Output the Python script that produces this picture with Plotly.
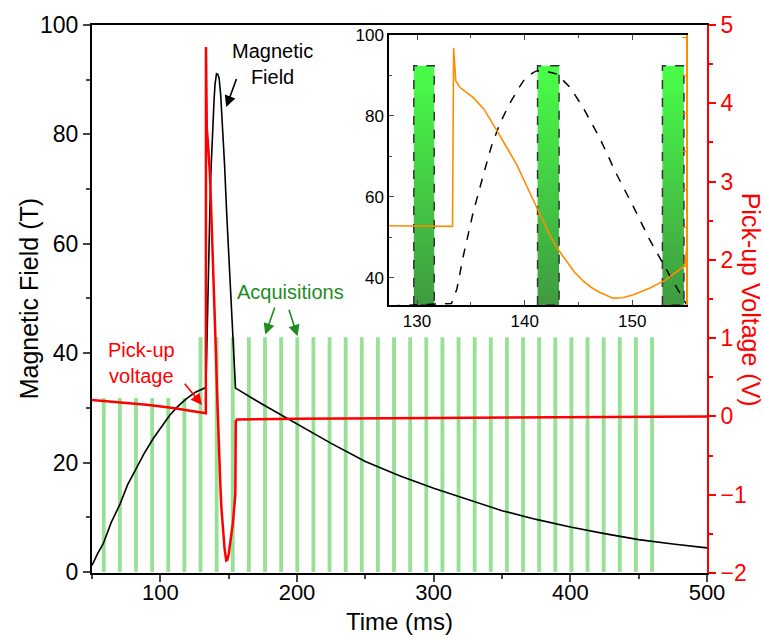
import plotly.graph_objects as go

# ---------------- data ----------------
# Magnetic field (T) versus time (ms)
t_field = [50, 54, 58.3, 64, 70.5, 76, 82.6, 88, 94.8, 100,
           107, 113, 119.2, 126, 133.2, 133.7, 134.3, 135.2, 136.2, 136.9,
           137.7, 138.5, 139.3, 140.0, 140.8, 141.1, 142.0, 143.0, 144.2, 145.4,
           147.0, 148.5, 150.1, 151.6, 153.5, 154.7, 155.0, 175, 200, 225,
           250, 275, 300, 325, 350, 375, 400, 425, 450, 475, 500]
field = [1.2, 3.3, 5.2, 9.0, 12.4, 15.9, 19.0, 21.6, 24.4, 26.3,
         28.7, 30.3, 31.7, 32.9, 33.7, 37.2, 45.4, 56.0, 65.8, 72.4,
         78.1, 82.5, 86.2, 89.1, 90.7, 91.1, 91.0, 90.3, 87.1, 82.2,
         74.4, 65.8, 57.6, 49.5, 40.5, 34.8, 33.6, 30.6, 27.1, 23.5,
         20.2, 17.6, 15.3, 13.2, 11.2, 9.6, 8.2, 7.0, 5.9, 5.1, 4.4]

# Pick-up voltage (V) versus time (ms)
t_volt = [50, 70, 90, 108, 120, 133.3, 133.4, 133.6, 134.0, 134.6,
          135.2, 136.2, 136.9, 137.7, 138.5, 139.3, 140.0, 140.8, 141.6, 142.3,
          143.1, 143.9, 144.6, 145.4, 146.2, 147.0, 148.2, 149.1, 150.1, 151.6,
          153.1, 154.9, 155.2, 156.0, 200, 300, 400, 500]
volt = [0.21, 0.18, 0.15, 0.11, 0.08, 0.04, 4.72, 3.85, 3.68, 3.55,
        3.42, 3.12, 2.81, 2.42, 2.03, 1.64, 1.21, 0.74, 0.26, -0.17,
        -0.56, -0.87, -1.15, -1.38, -1.56, -1.69, -1.84, -1.83, -1.75, -1.58,
        -1.36, -0.99, -0.06, -0.04, -0.03, -0.02, -0.01, 0.0]

# Acquisition windows (main panel): centre time (ms) and marker height (T)
acq_t = [58.6, 70.4, 82.2, 94.0, 105.8, 117.6, 129.4, 141.2, 153.0, 164.8,
         176.6, 188.4, 200.2, 212.0, 223.8, 235.6, 247.4, 259.2, 271.0, 282.8,
         294.6, 306.4, 318.2, 330.0, 341.8, 353.6, 365.4, 377.2, 389.0, 400.8,
         412.6, 424.4, 436.2, 448.0, 459.8]
acq_h = [31.8, 31.8, 31.8, 31.8, 31.8, 31.8, 42.9, 42.9, 42.9, 42.9,
         42.9, 42.9, 42.9, 42.9, 42.9, 42.9, 42.9, 42.9, 42.9, 42.9,
         42.9, 42.9, 42.9, 42.9, 42.9, 42.9, 42.9, 42.9, 42.9, 42.9,
         42.9, 42.9, 42.9, 42.9, 42.9]

# Acquisition windows (inset): start, end (ms), top level
inset_acq_start = [129.7, 141.2, 152.8]
inset_acq_end = [131.6, 143.2, 154.8]
inset_acq_top = 92.4

# axis ranges
main_x = [50, 500]
main_y = [-0.2, 100]
main_y2 = [-2, 5]
inset_x = [127.4, 155]
inset_y = [33.3, 100]
inset_y2 = [-2.02, 5.06]

FONT = "Liberation Sans, Arial, sans-serif"
ORANGE = "#ff8c00"

fig = go.Figure()

# main panel
fig.add_trace(go.Bar(x=acq_t, y=acq_h, width=2.8,
                     marker=dict(color="#96e196", line_width=0),
                     xaxis="x", yaxis="y"))
fig.add_trace(go.Scatter(x=t_field, y=field, mode="lines",
                         line=dict(color="black", width=1.6),
                         xaxis="x", yaxis="y"))
fig.add_trace(go.Scatter(x=t_volt, y=volt, mode="lines",
                         line=dict(color="#ff0000", width=2.5),
                         xaxis="x", yaxis="y2"))

# inset
for s, e in zip(inset_acq_start, inset_acq_end):
    fig.add_trace(go.Scatter(
        x=[s, s, e, e, s],
        y=[inset_y[0], inset_acq_top, inset_acq_top, inset_y[0], inset_y[0]],
        mode="lines", fill="toself",
        fillgradient=dict(type="vertical",
                          colorscale=[[0, "#3f9a3f"], [1, "#49ff49"]]),
        line=dict(color="#333333", width=1.5, dash="dash"),
        xaxis="x2", yaxis="y3"))
fig.add_trace(go.Scatter(x=t_field, y=field, mode="lines",
                         line=dict(color="black", width=1.5, dash="dash"),
                         xaxis="x2", yaxis="y3"))
fig.add_trace(go.Scatter(x=t_volt, y=volt, mode="lines",
                         line=dict(color=ORANGE, width=1.6),
                         xaxis="x2", yaxis="y4"))

tickfont = dict(family=FONT, size=23, color="black")
xtickfont = dict(family=FONT, size=22, color="black")
insetfont = dict(family=FONT, size=17, color="black")

fig.update_layout(
    width=764, height=639,
    margin=dict(l=92, r=57, t=20, b=66),
    paper_bgcolor="white", plot_bgcolor="white",
    showlegend=False,
    font=dict(family=FONT),
    xaxis=dict(domain=[0, 1], anchor="y", range=main_x,
               tick0=0, dtick=100, ticks="outside", ticklen=7, tickwidth=1.5,
               minor=dict(ticks="outside", dtick=50, ticklen=4, tickwidth=1.5),
               showline=True, linecolor="black", linewidth=2, mirror=True,
               showgrid=False, zeroline=False, tickfont=xtickfont,
               ticklabelstandoff=-8),
    yaxis=dict(anchor="x", range=main_y, tick0=0, dtick=20,
               ticks="outside", ticklen=7, tickwidth=1.5,
               minor=dict(ticks="outside", dtick=10, ticklen=4, tickwidth=1.5),
               showline=True, linecolor="black", linewidth=2,
               showgrid=False, zeroline=False, tickfont=tickfont),
    yaxis2=dict(overlaying="y", side="right", anchor="x", range=main_y2,
                tick0=0, dtick=1, ticks="outside", ticklen=7, tickwidth=1.5,
                tickcolor="#ff0000",
                minor=dict(ticks="outside", dtick=0.5, ticklen=4, tickwidth=1.5,
                           tickcolor="#ff0000"),
                showline=True, linecolor="#ff0000", linewidth=2,
                showgrid=False, zeroline=False,
                tickfont=dict(family=FONT, size=23, color="#ff0000")),
    xaxis2=dict(domain=[0.483, 0.966], anchor="y3", range=inset_x,
                tick0=0, dtick=10, ticks="inside", ticklen=5, tickwidth=1,
                minor=dict(ticks="inside", dtick=5, ticklen=3, tickwidth=1),
                showline=True, linecolor="black", linewidth=1.5, mirror="ticks",
                showgrid=False, zeroline=False, tickfont=insetfont),
    yaxis3=dict(domain=[0.489, 0.982], anchor="x2", range=inset_y,
                tick0=0, dtick=20, ticks="inside", ticklen=5, tickwidth=1,
                minor=dict(ticks="inside", dtick=10, ticklen=3, tickwidth=1),
                showline=True, linecolor="black", linewidth=1.5,
                showgrid=False, zeroline=False, tickfont=insetfont),
    yaxis4=dict(overlaying="y3", side="right", anchor="x2", range=inset_y2,
                tick0=0, dtick=1, ticks="inside", ticklen=4, tickwidth=1,
                tickcolor=ORANGE, showticklabels=False,
                showline=True, linecolor=ORANGE, linewidth=1.5,
                showgrid=False, zeroline=False),
)

annotations = [
    # axis titles
    dict(text="Time (ms)", x=0.5, y=-0.089, xref="paper", yref="paper",
         showarrow=False, font=dict(family=FONT, size=24, color="black"),
         xanchor="center", yanchor="middle"),
    dict(text="Magnetic Field (T)", x=-0.101, y=0.501, xref="paper", yref="paper",
         textangle=-90, showarrow=False,
         font=dict(family=FONT, size=25, color="black"),
         xanchor="center", yanchor="middle"),
    dict(text="Pick-up Voltage (V)", x=1.073, y=0.499, xref="paper", yref="paper",
         textangle=90, showarrow=False,
         font=dict(family=FONT, size=25, color="#ff0000"),
         xanchor="center", yanchor="middle"),
    # labels
    dict(text="Magnetic<br>Field", x=0.294, y=0.928, xref="paper", yref="paper",
         showarrow=False, font=dict(family=FONT, size=20, color="black"),
         xanchor="center", yanchor="middle"),
    dict(text="Pick-up<br>voltage", x=0.0813, y=0.383, xref="paper", yref="paper",
         showarrow=False, font=dict(family=FONT, size=20, color="#ff0000"),
         xanchor="center", yanchor="middle"),
    dict(text="Acquisitions", x=0.322, y=0.512, xref="paper", yref="paper",
         showarrow=False, font=dict(family=FONT, size=20, color="#1e8c1e"),
         xanchor="center", yanchor="middle"),
]

arrows = [
    # (head x, head y, tail x, tail y, color)
    (148.2, 85.0, 156.1, 90.4, "black"),
    (130.5, 30.5, 117.0, 34.7, "#ff0000"),
    (176.8, 43.4, 184.1, 48.6, "#1e8c1e"),
    (200.4, 43.1, 193.8, 48.2, "#1e8c1e"),
]
for hx, hy, tx, ty, c in arrows:
    annotations.append(dict(text="", x=hx, y=hy, ax=tx, ay=ty,
                            xref="x", yref="y", axref="x", ayref="y",
                            showarrow=True, arrowhead=2, arrowsize=1.4,
                            arrowwidth=1.6, arrowcolor=c))

fig.update_layout(annotations=annotations)

fig.write_html("out.html")
